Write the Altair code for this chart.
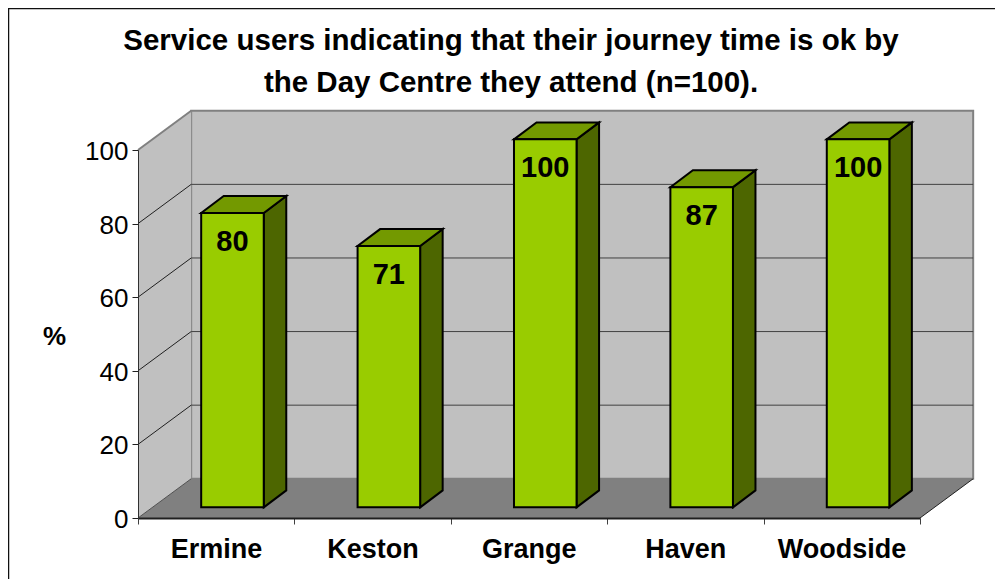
import json
import altair as alt
import pandas as pd

categories = ["Ermine", "Keston", "Grange", "Haven", "Woodside"]
values = [80, 71, 100, 87, 100]
y_ticks = [0, 20, 40, 60, 80, 100]
title_lines = [
    "Service users indicating that their journey time is ok by",
    "the Day Centre they attend (n=100).",
]

FONT = "Liberation Sans"
N = len(categories)
DEPTH_X, DEPTH_Y = 0.34, 10.66        # wall depth in axis units
BAR_X, BAR_W = 0.404, 0.40            # bar inset and width in category units
BAR_BASE = 2.9                        # bar floor inset in %
BAR_DX, BAR_DY = 0.144, 4.6           # bar depth in axis units

sx = alt.Scale(domain=[0, N], range=[0, 782], nice=False, zero=False)
sy = alt.Scale(domain=[0, 100], range=[368, 0], nice=False, zero=False)

x_axis = alt.Axis(
    values=list(range(N + 1)),
    labelExpr=f"{json.dumps(categories)}[datum.value] || ''",
    labelOffset=78,
    labelFont=FONT, labelFontSize=27, labelFontWeight="bold", labelColor="black",
    labelPadding=12, labelAngle=0, labelOverlap=False, labelFlush=False,
    tickColor="#404040", tickSize=6, tickWidth=1,
    domainColor="#202020", domainWidth=2, grid=False, title=None, zindex=1,
)
y_axis = alt.Axis(
    values=y_ticks,
    labelFont=FONT, labelFontSize=26, labelColor="black", labelPadding=4, labelOffset=1.5,
    tickColor="#202020", tickSize=6, tickWidth=1,
    domainColor="#303030", domainWidth=1, grid=False, zindex=1,
    title="%", titleFont=FONT, titleFontSize=26, titleFontWeight="bold", titleColor="black",
    titleAngle=0, titleX=-84, titleY=186, titleAlign="center", titleBaseline="middle",
)


def X(field="x"):
    return alt.X(f"{field}:Q", scale=sx, axis=x_axis)


def Y(field="y"):
    return alt.Y(f"{field}:Q", scale=sy, axis=y_axis)


def slanted_top(g, x0, w, dx, y, dy):
    return [
        dict(g=g, x=x0, y=y, y2=y),
        dict(g=g, x=x0 + dx, y=y, y2=y + dy),
        dict(g=g, x=x0 + w, y=y, y2=y + dy),
        dict(g=g, x=x0 + w + dx, y=y + dy, y2=y + dy),
    ]


def slanted_side(g, x0, dx, y_low, y_high, dy):
    return [
        dict(g=g, x=x0, y=y_low, y2=y_high),
        dict(g=g, x=x0 + dx, y=y_low + dy, y2=y_high + dy),
    ]


# ---- walls and floor
back_wall = alt.Chart(pd.DataFrame([dict(x=DEPTH_X, x2=N + DEPTH_X, y=DEPTH_Y, y2=100 + DEPTH_Y)])).mark_rect(
    fill="#C0C0C0", stroke="#808080", strokeWidth=2
).encode(x=X(), x2="x2:Q", y=Y(), y2="y2:Q")

side_wall = alt.Chart(pd.DataFrame(slanted_side("w", 0, DEPTH_X, 0, 100, DEPTH_Y))).mark_area(
    fill="#C0C0C0", opacity=1
).encode(x=X(), y=Y(), y2="y2:Q")

floor = alt.Chart(pd.DataFrame(slanted_top("f", 0, N, DEPTH_X, 0, DEPTH_Y))).mark_area(
    fill="#808080", opacity=1
).encode(x=X(), y=Y(), y2="y2:Q")

grid_back = alt.Chart(pd.DataFrame([dict(x=DEPTH_X, x2=N + DEPTH_X, y=v + DEPTH_Y) for v in y_ticks[1:-1]])).mark_rule(
    color="#404040", strokeWidth=1
).encode(x=X(), x2="x2:Q", y=Y())

grid_side = alt.Chart(pd.DataFrame([dict(x=0, x2=DEPTH_X, y=v, y2=v + DEPTH_Y) for v in y_ticks[1:-1]])).mark_rule(
    color="#202020", strokeWidth=1
).encode(x=X(), x2="x2:Q", y=Y(), y2="y2:Q")

edges = pd.DataFrame([
    dict(x=0, x2=DEPTH_X, y=100, y2=100 + DEPTH_Y, c="#808080", w=2),
    dict(x=0, x2=DEPTH_X, y=0, y2=DEPTH_Y, c="#505050", w=1),
    dict(x=N, x2=N + DEPTH_X, y=0, y2=DEPTH_Y, c="#202020", w=1),
])
edge_marks = alt.Chart(edges).mark_rule().encode(
    x=X(), x2="x2:Q", y=Y(), y2="y2:Q",
    color=alt.Color("c:N", scale=None),
    strokeWidth=alt.StrokeWidth("w:Q", scale=None),
)

# ---- bars
front_rows, side_rows, top_rows, label_rows = [], [], [], []
for i, (cat, v) in enumerate(zip(categories, values)):
    left = i + BAR_X
    front_rows.append(dict(x=left, x2=left + BAR_W, y=BAR_BASE, y2=BAR_BASE + v))
    side_rows += slanted_side(cat, left + BAR_W, BAR_DX, BAR_BASE, BAR_BASE + v, BAR_DY)
    top_rows += slanted_top(cat, left, BAR_W, BAR_DX, BAR_BASE + v, BAR_DY)
    label_rows.append(dict(x=left + BAR_W / 2, y=BAR_BASE + v, t=str(v)))

BAR_STROKE = dict(stroke="black", strokeWidth=2, strokeJoin="miter", opacity=1)
bar_side = alt.Chart(pd.DataFrame(side_rows)).mark_area(fill="#4D6600", **BAR_STROKE).encode(
    x=X(), y=Y(), y2="y2:Q", detail="g:N"
)
bar_top = alt.Chart(pd.DataFrame(top_rows)).mark_area(fill="#739900", **BAR_STROKE).encode(
    x=X(), y=Y(), y2="y2:Q", detail="g:N"
)
bar_front = alt.Chart(pd.DataFrame(front_rows)).mark_rect(fill="#99CC00", stroke="black", strokeWidth=2).encode(
    x=X(), x2="x2:Q", y=Y(), y2="y2:Q"
)
bar_labels = alt.Chart(pd.DataFrame(label_rows)).mark_text(
    font=FONT, fontSize=29, fontWeight="bold", color="black", baseline="middle", yOffset=29
).encode(x=X(), y=Y(), text="t:N")

# ---- outer frame (top and left edges of the chart area)
frame_top = alt.Chart(pd.DataFrame({"a": [0]})).mark_rule(color="#101010", strokeWidth=1.5).encode(
    x=alt.value(-130), x2=alt.value(857), y=alt.value(-141.5)
)
frame_left = alt.Chart(pd.DataFrame({"a": [0]})).mark_rule(color="#101010", strokeWidth=1.5).encode(
    x=alt.value(-129.5), y=alt.value(-142), y2=alt.value(429)
)

chart = alt.layer(
    back_wall, side_wall, floor, grid_back, grid_side, edge_marks,
    bar_side, bar_top, bar_front, bar_labels, frame_top, frame_left,
).properties(
    width=782, height=368,
    autosize="none",
    padding={"left": 130, "top": 142, "right": 75, "bottom": 61},
    title=alt.TitleParams(
        text=title_lines, font=FONT, fontSize=29.5, fontWeight="bold", color="black",
        anchor="middle", dx=-18, offset=0, dy=91, lineHeight=42,
    ),
).configure_view(stroke=None).configure(background="white")

chart.save("out.html", embed_options={"renderer": "svg", "actions": False})
